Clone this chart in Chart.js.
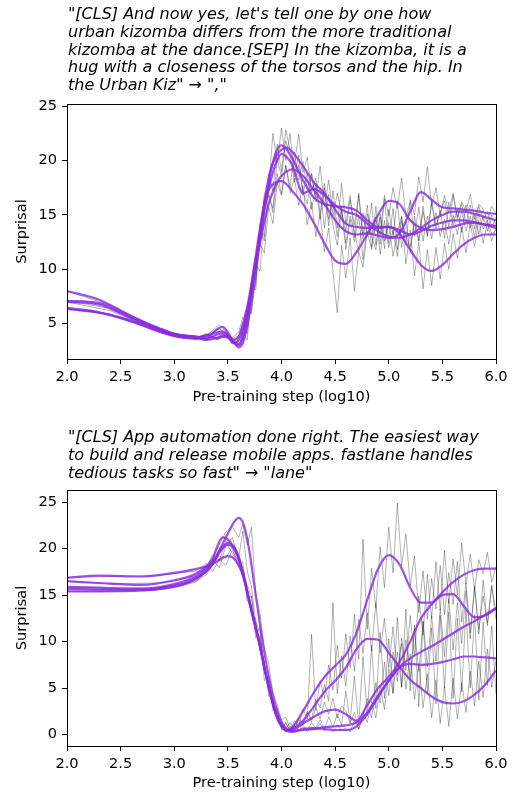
<!DOCTYPE html>
<html>
<head>
<meta charset="utf-8">
<script src="https://cdn.jsdelivr.net/npm/chart.js@4.4.0/dist/chart.umd.min.js"></script>
<style>
body { margin: 0; background: #fff; width: 513px; height: 796px; position: relative; overflow: hidden; }
.ttl { position: absolute; left: 68px; font-family: 'DejaVu Sans'; font-style: italic; font-size: 16px; line-height: 17.8px; white-space: pre; color: #000; z-index: 2; }
canvas { position: absolute; left: 0; }
</style>
</head>
<body>
<div class="ttl" style="top:5px">"[CLS] And now yes, let's tell one by one how
urban kizomba differs from the more traditional
kizomba at the dance.[SEP] In the kizomba, it is a
hug with a closeness of the torsos and the hip. In
the Urban Kiz" → ","</div>
<canvas id="c1" width="513" height="410" style="top:0px"></canvas>
<div class="ttl" style="top:428px">"[CLS] App automation done right. The easiest way
to build and release mobile apps. fastlane handles
tedious tasks so fast" → "lane"</div>
<canvas id="c2" width="513" height="386" style="top:410px"></canvas>
<script>
// axis ticks
const xTicks = [2.0, 2.5, 3.0, 3.5, 4.0, 4.5, 5.0, 5.5, 6.0];
const topYTicks = [5, 10, 15, 20, 25];
const botYTicks = [0, 5, 10, 15, 20, 25];

// x positions of the raw (grey) checkpoints, shared by both panels
const rawX = [2.0, 2.4, 2.8, 3.0, 3.2, 3.3, 3.36, 3.42, 3.48, 3.54, 3.6, 3.64, 3.68, 3.72, 3.76, 3.8, 3.84, 3.88, 3.92, 3.96, 4.0, 4.04, 4.08, 4.12, 4.16, 4.2, 4.24, 4.28, 4.32, 4.36, 4.4, 4.44, 4.48, 4.52, 4.56, 4.6, 4.64, 4.68, 4.72, 4.76, 4.8, 4.84, 4.88, 4.92, 4.96, 5.0, 5.04, 5.08, 5.12, 5.16, 5.2, 5.24, 5.28, 5.32, 5.36, 5.4, 5.44, 5.48, 5.52, 5.56, 5.6, 5.64, 5.68, 5.72, 5.76, 5.8, 5.84, 5.88, 5.92, 5.96, 6.0];

// top panel: "," target
const topSmoothX = [2.0, 2.3, 2.6, 3.0, 3.2, 3.3, 3.4, 3.45, 3.5, 3.55, 3.6, 3.65, 3.7, 3.75, 3.8, 3.85, 3.9, 3.95, 4.0, 4.05, 4.1, 4.2, 4.3, 4.4, 4.5, 4.6, 4.7, 4.8, 4.9, 5.0, 5.1, 5.2, 5.3, 5.4, 5.5, 5.6, 5.7, 5.8, 5.9, 6.0];
const topSmooth1 = [8.0, 7.2, 5.7, 4.1, 3.8, 3.7, 4.5, 4.7, 4.2, 3.4, 2.8, 3.5, 5.8, 9.0, 12.8, 16.2, 19.0, 20.8, 21.4, 21.0, 20.2, 18.2, 16.6, 16.0, 15.8, 15.7, 15.4, 14.5, 13.9, 13.9, 13.3, 11.8, 10.4, 9.85, 10.4, 11.4, 12.3, 12.9, 13.2, 13.2];
const topSmooth2 = [7.1, 6.9, 5.6, 4.0, 3.75, 3.9, 4.2, 4.3, 4.0, 3.3, 3.0, 4.0, 6.5, 9.8, 13.5, 16.8, 19.2, 20.4, 21.0, 21.2, 20.8, 19.5, 18.0, 17.0, 15.5, 14.2, 13.9, 13.8, 13.8, 13.9, 13.6, 13.2, 13.5, 14.0, 14.3, 14.5, 14.5, 14.3, 14.1, 14.0];
const topSmooth3 = [7.0, 6.75, 5.5, 4.05, 3.8, 3.6, 4.0, 4.1, 3.9, 3.3, 3.1, 4.4, 7.0, 10.0, 13.2, 16.0, 18.2, 19.8, 20.6, 20.3, 19.6, 17.0, 17.4, 16.8, 15.9, 15.3, 15.0, 14.2, 13.5, 13.0, 12.9, 13.2, 13.8, 14.5, 15.0, 15.3, 15.3, 15.1, 14.8, 14.5];
const topSmooth4 = [6.45, 6.05, 5.3, 3.9, 3.7, 3.5, 3.7, 3.9, 3.8, 3.2, 3.5, 4.8, 7.2, 10.3, 12.5, 14.8, 16.6, 17.8, 18.6, 19.0, 19.2, 18.6, 17.3, 16.0, 14.5, 13.5, 13.2, 13.3, 13.1, 12.9, 13.3, 15.3, 17.1, 16.4, 15.7, 15.6, 15.5, 15.4, 15.2, 15.1];
const topSmooth5 = [6.35, 6.0, 5.2, 3.85, 3.6, 3.95, 3.6, 3.8, 3.7, 3.5, 3.8, 5.3, 7.5, 10.6, 13.8, 16.5, 17.6, 18.0, 18.1, 17.8, 17.2, 16.0, 14.3, 12.4, 10.8, 10.5, 11.6, 13.2, 15.0, 16.3, 16.0, 14.5, 13.8, 13.6, 13.7, 13.9, 14.2, 14.3, 14.1, 13.8];

const topRaw1 = [8.0, 6.7, 4.8, 4.1, 3.8, 3.9, 4.4, 4.9, 4.3, 3.6, 3.2, 3.0, 5.5, 6.2, 11.0, 12.0, 17.0, 17.5, 22.5, 19.8, 23.0, 20.0, 22.5, 18.5, 20.5, 16.8, 18.9, 15.5, 17.8, 14.6, 17.5, 14.0, 17.2, 13.8, 17.9, 14.2, 16.8, 12.9, 17.0, 13.1, 15.9, 12.0, 15.8, 12.3, 16.5, 12.4, 15.6, 11.8, 14.9, 10.5, 13.6, 9.4, 12.5, 8.2, 11.8, 8.5, 12.0, 9.1, 12.4, 10.0, 13.3, 11.0, 13.9, 11.5, 14.2, 12.1, 14.5, 12.4, 14.3, 12.6, 13.8];
const topRaw2 = [7.1, 6.4, 4.7, 4.0, 3.7, 4.0, 4.3, 4.5, 4.1, 3.4, 3.3, 4.2, 3.5, 7.8, 8.5, 14.2, 13.0, 18.8, 17.2, 21.5, 19.0, 22.8, 21.0, 19.6, 22.4, 18.9, 20.3, 17.0, 18.4, 15.1, 17.9, 14.6, 16.2, 13.0, 15.8, 12.4, 14.9, 13.5, 11.6, 15.2, 13.0, 16.1, 12.2, 14.8, 11.9, 15.5, 13.1, 16.3, 12.0, 14.4, 11.5, 14.9, 12.6, 15.8, 13.0, 16.0, 13.7, 15.4, 12.9, 16.2, 14.0, 15.6, 13.4, 15.9, 13.8, 15.1, 13.2, 14.9, 13.5, 15.0, 14.1];
const topRaw3 = [7.0, 6.2, 4.6, 4.0, 3.8, 3.6, 4.1, 4.6, 3.9, 3.6, 3.9, 5.0, 4.1, 7.5, 10.5, 9.8, 15.5, 16.8, 15.6, 20.2, 18.5, 21.8, 20.4, 18.0, 19.6, 17.1, 16.0, 18.8, 16.5, 19.5, 15.8, 18.2, 14.9, 17.0, 15.2, 13.6, 16.4, 14.1, 16.8, 12.8, 15.1, 13.2, 14.8, 11.4, 14.5, 12.0, 13.6, 11.2, 14.4, 13.0, 12.1, 14.2, 12.6, 15.3, 13.1, 16.4, 14.0, 15.2, 16.3, 13.9, 16.8, 14.6, 16.0, 14.2, 15.9, 13.7, 15.8, 14.5, 15.3, 13.9, 14.8];
const topRaw4 = [6.45, 5.8, 4.5, 3.9, 3.6, 3.5, 3.8, 3.7, 3.9, 3.2, 3.9, 4.4, 6.3, 5.9, 9.2, 12.3, 11.5, 15.8, 14.2, 17.9, 16.8, 19.5, 17.6, 20.8, 18.2, 19.9, 17.4, 18.8, 16.2, 17.5, 13.8, 16.9, 14.0, 12.2, 15.5, 11.8, 14.6, 12.5, 15.0, 10.9, 14.2, 13.0, 11.8, 15.1, 12.6, 14.3, 11.2, 13.5, 14.8, 12.2, 16.4, 15.0, 18.5, 16.2, 19.4, 15.8, 17.5, 14.9, 16.8, 15.2, 17.0, 14.8, 16.2, 15.3, 16.9, 14.6, 16.0, 15.5, 14.4, 15.8, 15.0];
const topRaw5 = [6.35, 5.9, 4.4, 3.85, 3.6, 4.1, 3.7, 4.3, 3.8, 3.7, 4.2, 5.6, 4.8, 8.6, 8.1, 13.9, 12.6, 17.1, 15.2, 18.8, 16.9, 19.6, 17.0, 18.4, 15.9, 17.7, 14.1, 16.2, 13.0, 15.1, 11.6, 13.8, 9.8, 6.0, 12.2, 9.2, 12.9, 8.0, 11.6, 10.2, 13.5, 11.8, 14.6, 13.2, 16.8, 14.9, 17.5, 15.6, 18.4, 14.8, 16.2, 13.1, 15.7, 12.6, 14.9, 12.8, 15.2, 13.0, 14.6, 12.3, 15.0, 13.2, 15.4, 13.5, 14.9, 13.0, 15.1, 13.7, 14.5, 13.2, 13.6];

// bottom panel: "lane" target
const botSmoothX = [2.0, 2.3, 2.7, 3.0, 3.2, 3.35, 3.45, 3.5, 3.55, 3.6, 3.65, 3.7, 3.75, 3.8, 3.85, 3.9, 3.95, 4.0, 4.05, 4.1, 4.2, 4.3, 4.4, 4.5, 4.6, 4.7, 4.8, 4.9, 5.0, 5.1, 5.2, 5.3, 5.4, 5.5, 5.6, 5.7, 5.8, 5.9, 6.0];
const botSmooth1 = [16.85, 17.1, 17.0, 17.4, 17.8, 18.3, 19.0, 19.2, 19.0, 18.2, 16.8, 14.5, 12.0, 9.6, 6.8, 4.3, 2.2, 1.0, 0.5, 0.8, 2.5, 4.5, 6.2, 7.4, 8.6, 11.0, 14.5, 17.8, 19.3, 18.3, 15.8, 14.2, 14.2, 15.0, 15.1, 13.8, 12.6, 12.8, 13.6];
const botSmooth2 = [16.5, 16.3, 16.1, 16.6, 17.3, 18.8, 21.2, 21.0, 20.2, 18.8, 16.7, 14.2, 11.8, 9.4, 6.6, 4.1, 2.1, 0.9, 0.4, 0.6, 1.5, 3.0, 4.6, 5.8, 7.2, 9.2, 10.3, 10.2, 8.8, 7.3, 5.9, 5.0, 4.1, 3.5, 3.35, 3.6, 4.3, 5.4, 6.9];
const botSmooth3 = [15.9, 15.8, 15.7, 16.2, 17.0, 18.5, 20.2, 20.6, 20.3, 19.2, 17.0, 14.4, 12.0, 9.6, 6.8, 4.3, 2.2, 1.0, 0.5, 0.5, 1.2, 1.9, 2.5, 2.7, 2.2, 1.5, 3.2, 5.0, 6.2, 7.8, 10.0, 12.5, 14.0, 15.3, 16.4, 17.2, 17.7, 17.85, 17.85];
const botSmooth4 = [15.7, 15.6, 15.6, 16.0, 16.8, 18.3, 20.0, 20.4, 20.1, 19.0, 16.9, 14.3, 11.9, 9.5, 6.7, 4.2, 2.1, 0.9, 0.4, 0.3, 0.6, 0.7, 0.6, 0.5, 0.5, 0.9, 2.2, 4.0, 5.8, 7.3, 8.2, 8.9, 9.5, 10.2, 10.9, 11.6, 12.2, 12.9, 13.6];
const botSmooth5 = [15.4, 15.4, 15.5, 15.9, 16.7, 18.2, 20.5, 21.6, 22.7, 23.3, 22.5, 19.8, 15.8, 11.8, 8.2, 5.2, 2.9, 1.4, 0.6, 0.4, 0.5, 0.6, 0.8, 0.9, 1.0, 1.3, 2.4, 4.2, 5.8, 7.2, 7.6, 7.5, 7.6, 7.8, 8.1, 8.4, 8.4, 8.3, 8.2];

const botRaw1 = [16.9, 17.0, 17.1, 17.3, 17.6, 18.4, 17.5, 18.9, 18.2, 19.8, 18.6, 17.8, 16.1, 14.8, 11.2, 10.5, 6.9, 5.8, 2.9, 2.4, 0.8, 1.2, 0.4, 1.5, 0.9, 2.8, 1.6, 10.8, 2.6, 5.8, 3.9, 7.5, 4.8, 9.6, 6.1, 10.8, 7.2, 12.9, 8.1, 21.0, 11.3, 17.9, 13.6, 20.2, 15.8, 22.3, 17.4, 24.9, 18.1, 21.6, 16.0, 19.2, 13.1, 17.6, 12.4, 16.8, 13.5, 18.2, 12.9, 17.4, 14.0, 18.6, 12.1, 16.3, 10.9, 15.8, 11.3, 14.9, 12.0, 16.1, 13.2];
const botRaw2 = [16.5, 16.2, 16.3, 16.5, 17.1, 17.9, 19.4, 18.6, 20.8, 19.5, 18.3, 17.2, 15.5, 13.0, 12.4, 9.0, 7.8, 4.2, 3.6, 1.5, 1.1, 0.4, 0.9, 0.5, 1.8, 1.2, 2.5, 1.6, 3.8, 2.9, 5.4, 3.6, 14.2, 4.4, 8.5, 5.2, 10.6, 6.8, 12.4, 8.7, 13.1, 9.0, 14.2, 8.8, 12.5, 7.2, 11.6, 6.4, 9.8, 4.9, 8.7, 3.8, 7.6, 2.9, 6.5, 1.8, 5.9, 1.2, 5.2, 0.9, 6.1, 1.7, 5.6, 2.4, 6.8, 3.1, 7.9, 4.0, 9.2, 5.1, 8.0];
const botRaw3 = [15.9, 15.7, 15.8, 16.1, 16.9, 17.5, 18.9, 17.9, 20.3, 21.2, 19.0, 21.9, 17.6, 15.9, 12.1, 11.0, 7.3, 5.0, 3.4, 1.8, 1.4, 0.7, 1.3, 0.6, 1.6, 1.1, 2.3, 1.4, 2.9, 1.7, 3.5, 2.2, 3.9, 1.8, 3.1, 2.6, 1.2, 2.4, 0.6, 1.9, 3.9, 1.8, 5.6, 3.4, 7.8, 4.2, 8.9, 5.7, 10.4, 6.9, 12.8, 8.4, 14.9, 10.7, 17.2, 12.5, 18.6, 13.4, 19.8, 14.1, 18.9, 15.0, 20.6, 16.2, 19.4, 15.6, 18.8, 17.3, 19.6, 16.4, 18.1];
const botRaw4 = [15.7, 15.6, 15.5, 16.0, 16.5, 17.2, 18.3, 19.2, 19.0, 20.1, 18.0, 18.6, 14.3, 14.9, 10.4, 11.6, 5.8, 6.4, 2.6, 2.9, 0.5, 1.4, 0.3, 0.9, 0.4, 1.1, 0.3, 0.8, 0.5, 1.2, 0.4, 0.9, 0.3, 1.0, 0.5, 0.7, 0.3, 1.5, 0.6, 2.4, 1.3, 3.6, 1.8, 5.3, 2.7, 7.1, 4.4, 8.9, 5.1, 10.2, 6.0, 11.4, 6.8, 12.2, 7.3, 12.8, 7.9, 13.5, 8.4, 14.6, 9.1, 14.2, 9.8, 15.5, 10.3, 16.0, 10.8, 16.6, 11.7, 15.9, 12.4];
const botRaw5 = [15.4, 15.4, 15.5, 15.8, 16.4, 17.6, 18.9, 20.4, 21.8, 22.4, 21.2, 22.6, 20.4, 22.3, 15.1, 13.0, 9.4, 7.6, 4.5, 3.2, 1.6, 1.9, 0.6, 1.0, 0.4, 0.8, 0.5, 1.3, 0.7, 1.6, 0.6, 1.9, 0.8, 2.2, 1.0, 4.7, 1.4, 6.3, 1.1, 8.4, 2.0, 9.6, 2.8, 11.0, 3.9, 10.3, 4.5, 12.6, 5.1, 13.5, 4.7, 11.8, 3.0, 12.2, 4.4, 11.5, 3.3, 12.8, 5.0, 13.2, 3.9, 12.5, 4.6, 13.4, 5.0, 12.9, 3.7, 12.1, 5.3, 11.7, 4.4];

Chart.defaults.font.family = 'DejaVu Sans';
Chart.defaults.font.size = 14.6;
Chart.defaults.color = '#000';

const PURPLE = 'rgba(138, 43, 226, 0.82)';
const GREY = 'rgba(0, 0, 0, 0.34)';

// matplotlib style box around the plot area
const frame = {
    id: 'frame',
    afterDatasetsDraw(chart) {
        const a = chart.chartArea;
        const ctx = chart.ctx;
        ctx.save();
        ctx.strokeStyle = '#000';
        ctx.lineWidth = 1;
        ctx.strokeRect(Math.round(a.left) + 0.5, Math.round(a.top) + 0.5, Math.round(a.right - a.left), Math.round(a.bottom - a.top));
        ctx.restore();
    }
};

function pts(xs, ys) {
    return xs.map((x, i) => ({x: x, y: ys[i]}));
}

function panel(id, smoothX, smooth, raw, yMin, yMax, yTicks, padTop, xAxisH) {
    const datasets = [];
    smooth.forEach(s => datasets.push({
        data: pts(smoothX, s), borderColor: PURPLE, borderWidth: 2.2,
        cubicInterpolationMode: 'monotone', pointRadius: 0, order: 0
    }));
    raw.forEach(r => datasets.push({
        data: pts(rawX, r), borderColor: GREY, borderWidth: 0.9,
        tension: 0, pointRadius: 0, order: 1
    }));
    return new Chart(document.getElementById(id), {
        type: 'line',
        data: {datasets: datasets},
        options: {
            responsive: false,
            animation: false,
            events: [],
            layout: {padding: {top: padTop, right: 17, left: 0, bottom: 0}},
            plugins: {legend: {display: false}, tooltip: {enabled: false}},
            scales: {
                x: {
                    type: 'linear', min: 2, max: 6,
                    afterBuildTicks: s => { s.ticks = xTicks.map(v => ({value: v})); },
                    afterFit: s => { s.height = xAxisH; },
                    ticks: {callback: v => v.toFixed(1), padding: 4, maxRotation: 0, autoSkip: false},
                    grid: {drawOnChartArea: false, tickLength: 5, color: '#000'},
                    border: {display: false},
                    title: {display: true, text: 'Pre-training step (log10)', padding: {top: 4, bottom: 4}}
                },
                y: {
                    type: 'linear', min: yMin, max: yMax,
                    afterBuildTicks: s => { s.ticks = yTicks.map(v => ({value: v})); },
                    afterFit: s => { s.width = 67; },
                    ticks: {padding: 5},
                    grid: {drawOnChartArea: false, tickLength: 5, color: '#000'},
                    border: {display: false},
                    title: {display: true, text: 'Surprisal', padding: {top: 13, bottom: 4}}
                }
            }
        },
        plugins: [frame]
    });
}

panel('c1', topSmoothX,
    [topSmooth1, topSmooth2, topSmooth3, topSmooth4, topSmooth5],
    [topRaw1, topRaw2, topRaw3, topRaw4, topRaw5],
    1.75, 25.2, topYTicks, 104, 51);

panel('c2', botSmoothX,
    [botSmooth1, botSmooth2, botSmooth3, botSmooth4, botSmooth5],
    [botRaw1, botRaw2, botRaw3, botRaw4, botRaw5],
    -1.22, 26.3, botYTicks, 80, 50);
</script>
</body>
</html>
